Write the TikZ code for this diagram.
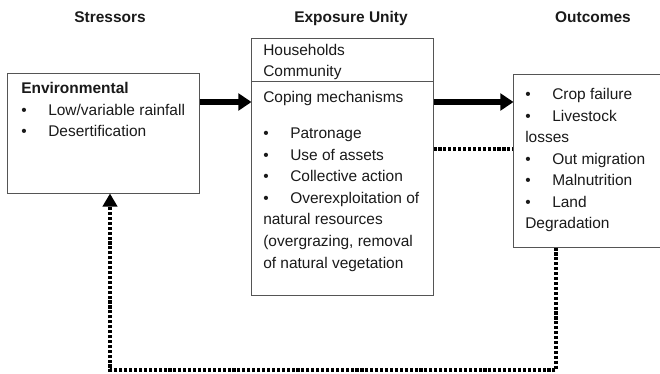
\documentclass[tikz,border=0pt]{standalone}
\usepackage{fontspec}
\setmainfont{Liberation Sans}
\usetikzlibrary{positioning, arrows.meta, calc}
\definecolor{boxLine}{HTML}{555555}
\definecolor{inkDark}{HTML}{1A1A1A}
\newcommand{\bul}{\makebox[0.675cm][l]{\textbullet}}

\begin{document}
\begin{tikzpicture}[x=0.025cm, y=-0.025cm,
    font=\fontsize{11}{15.3}\selectfont, text=inkDark,
    panel/.style={
      rectangle, draw=boxLine, line width=0.7pt,
      fill=white, inner sep=0pt
    },
    % anchored on the baseline of the last line
    boxtext/.style={anchor=base west, align=left, inner sep=0pt},
    header/.style={anchor=base, font=\fontsize{11}{13}\selectfont\bfseries},
    flow/.style={-{Triangle[length=0.33cm, width=0.42cm]}, line width=4.2pt},
    feedback/.style={line width=2.4pt, dash pattern=on 2.2pt off 1.3pt}
  ]
  \useasboundingbox (0,0) rectangle (660,374);

  % Column titles
  \node[header] (stresshead) at (110,23) {Stressors};
  \node[header] (unithead) at (351,23) {Exposure Unity};
  \node[header] (outhead) at (593,23) {Outcomes};

  % Boxes
  \node[panel, minimum width=4.775cm, minimum height=2.975cm] (env) at (103.5,133.5) {};
  \node[panel, minimum width=4.525cm, minimum height=1.1cm] (hh) at (342.5,60) {};
  \node[panel, minimum width=4.525cm, minimum height=5.325cm] (cope) at (342.5,188.5) {};
  \node[panel, minimum width=3.75cm, minimum height=4.3cm] (out) at (589,161) {};

  % Box contents
  \node[boxtext] (envtxt) at (21,137) {\textbf{Environmental}\\
    \bul Low/variable rainfall\\
    \bul Desertification};
  \node[boxtext] (hhtxt) at (263,77) {Households\\Community};
  \node[boxtext] (copetxt) at (263,268) {Coping mechanisms\\[0.3625cm]
    \bul Patronage\\
    \bul Use of assets\\
    \bul Collective action\\
    \bul Overexploitation of\\
    natural resources\\
    (overgrazing, removal\\
    of natural vegetation};
  \node[boxtext] (outtxt) at (525,229) {\bul Crop failure\\
    \bul Livestock\\
    losses\\
    \bul Out migration\\
    \bul Malnutrition\\
    \bul Land\\
    Degradation};

  % Levels of the links
  \coordinate (arrowlevel) at (0,102);
  \coordinate (backlevel) at (0,149);
  \coordinate (fbright) at (556,370);
  \coordinate (fbleft) at (110,370);

  \draw[flow] (env.east |- arrowlevel) -- (cope.west |- arrowlevel);
  \draw[flow] (cope.east |- arrowlevel) -- (out.west |- arrowlevel);
  \draw[feedback] (cope.east |- backlevel) -- (out.west |- backlevel);
  \draw[feedback, -{Triangle[length=0.33cm, width=0.36cm]}]
    (out.south -| fbright) -- (fbright) -- (fbleft) -- (env.south -| fbleft);
\end{tikzpicture}
\end{document}
